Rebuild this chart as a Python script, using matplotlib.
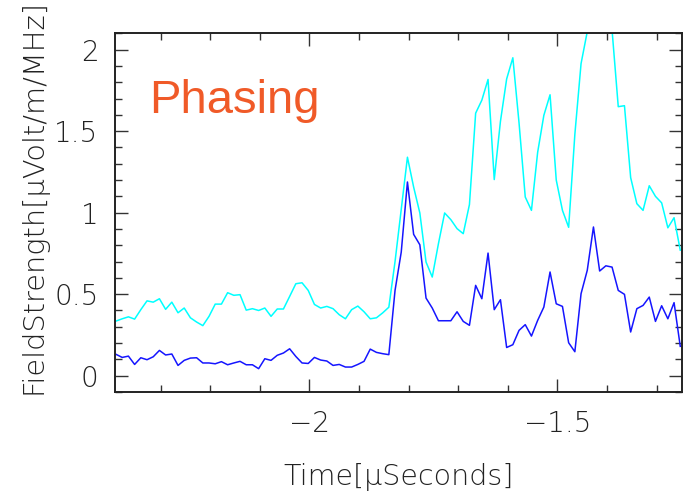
import numpy as np
import matplotlib
matplotlib.use("Agg")
import matplotlib.pyplot as plt

# time axis: 12.5 ns sampling, in microseconds
t_start = -2.39
t_step = 0.0125

# field strength, summed (cyan) and phased (blue) traces
cyan_vals = [
    0.335, 0.349, 0.361, 0.347, 0.405, 0.459, 0.451, 0.472, 0.407, 0.451,
    0.386, 0.415, 0.355, 0.329, 0.307, 0.364, 0.439, 0.439, 0.509, 0.493,
    0.497, 0.402, 0.411, 0.400, 0.415, 0.364, 0.409, 0.409, 0.486, 0.564,
    0.570, 0.523, 0.437, 0.415, 0.425, 0.411, 0.374, 0.349, 0.405, 0.427,
    0.392, 0.349, 0.355, 0.385, 0.420, 0.700, 1.020, 1.340, 1.157, 0.998,
    0.697, 0.605, 0.810, 0.998, 0.957, 0.902, 0.871, 1.050, 1.610, 1.690,
    1.817, 1.203, 1.560, 1.820, 1.950, 1.550, 1.096, 1.014, 1.370, 1.597,
    1.723, 1.200, 1.014, 0.910, 1.480, 1.914, 2.110, 2.250, 2.350, 2.300,
    2.120, 1.650, 1.656, 1.215, 1.055, 1.014, 1.165, 1.100, 1.060, 0.907,
    0.969, 0.770,
]
blue_vals = [
    0.131, 0.112, 0.120, 0.069, 0.110, 0.098, 0.116, 0.155, 0.127, 0.133,
    0.063, 0.094, 0.108, 0.110, 0.078, 0.078, 0.073, 0.086, 0.067, 0.078,
    0.088, 0.067, 0.067, 0.043, 0.104, 0.094, 0.125, 0.139, 0.165, 0.118,
    0.078, 0.075, 0.112, 0.096, 0.090, 0.063, 0.069, 0.053, 0.053, 0.069,
    0.088, 0.163, 0.143, 0.135, 0.129, 0.523, 0.758, 1.188, 0.867, 0.803,
    0.476, 0.415, 0.337, 0.337, 0.337, 0.392, 0.333, 0.309, 0.554, 0.472,
    0.752, 0.405, 0.466, 0.173, 0.190, 0.278, 0.313, 0.243, 0.339, 0.421,
    0.636, 0.441, 0.425, 0.202, 0.147, 0.503, 0.646, 0.912, 0.642, 0.674,
    0.666, 0.523, 0.499, 0.268, 0.411, 0.431, 0.482, 0.333, 0.429, 0.349,
    0.448, 0.180,
]
t = t_start + t_step * np.arange(len(cyan_vals))

xticks = [-2, -1.5]
yticks = [0, 0.5, 1, 1.5, 2]

fig = plt.figure(figsize=(6.9, 4.95), dpi=100)
ax = fig.add_axes([0.1667, 0.2081, 0.8217, 0.7246])

ax.plot(t, cyan_vals, color="#00ffff", lw=1.1)
ax.plot(t, blue_vals, color="#1515ff", lw=1.1)

ax.set_xlim(-2.392, -1.249)
ax.set_ylim(-0.1, 2.1)
ax.set_xticks(xticks)
ax.set_xticklabels(["\u22122", "\u22121.5"])
ax.set_yticks(yticks)
ax.set_yticklabels(["0", "0.5", "1", "1.5", "2"])
ax.set_xticks(np.arange(-2.3, -1.25, 0.1), minor=True)
ax.set_yticks(np.arange(-0.1, 2.11, 0.1), minor=True)

for side in ax.spines.values():
    side.set_linewidth(1.4)
    side.set_color("#222222")

ax.tick_params(which="both", direction="in", top=True, right=True,
               colors="#333333", labelcolor="#222222", labelsize=20)
ax.tick_params(which="major", length=9.5, width=1.0)
ax.tick_params(which="minor", length=5, width=1.0)
ax.tick_params(axis="x", which="major", pad=13)
ax.tick_params(axis="y", which="major", pad=12)

for lab in ax.get_xticklabels() + ax.get_yticklabels():
    lab.set_fontweight("light")

ax.set_xlabel("Time[\u03bcSeconds]", fontsize=20.5, fontweight="light",
              labelpad=18, color="#222222")
ax.set_ylabel("FieldStrength[\u03bcVolt/m/MHz]", fontsize=20.8, fontweight="light",
              labelpad=5, color="#222222")
ax.yaxis.label.set_y(0.545)

ax.text(0.06, 0.779, "Phasing", transform=ax.transAxes, fontsize=34,
        family="Liberation Sans", color="#f05a28")

fig.savefig("out.png", dpi=100)
